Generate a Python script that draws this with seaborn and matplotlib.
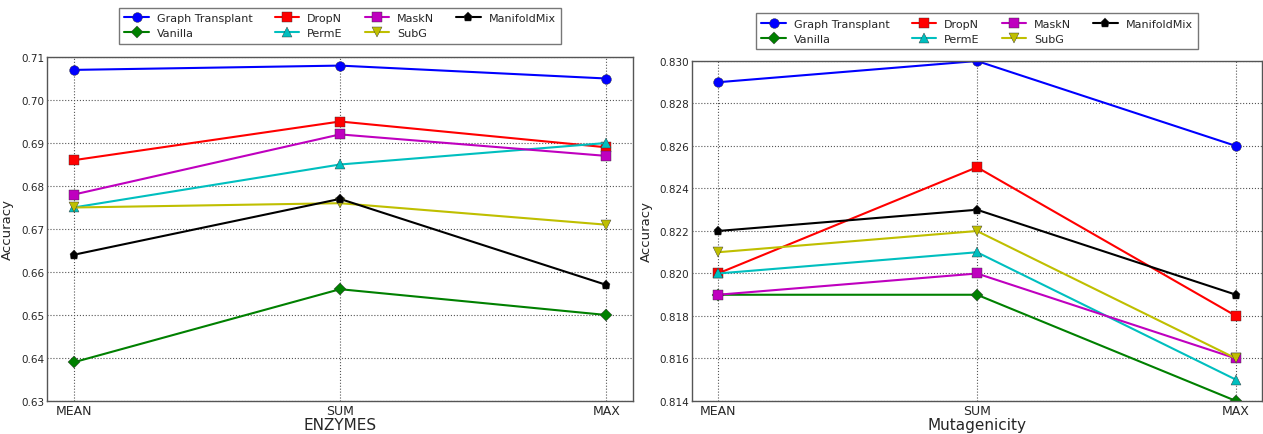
import matplotlib
matplotlib.use("Agg")
import matplotlib.pyplot as plt
import numpy as np
import pandas as pd
import seaborn as sns

# pooling types on the x axis
pools = ["MEAN", "SUM", "MAX"]
methods = ["Graph Transplant", "Vanilla", "DropN", "PermE", "MaskN", "SubG", "ManifoldMix"]

# ENZYMES accuracy
enz_transplant = [0.707, 0.708, 0.705]
enz_vanilla = [0.639, 0.656, 0.650]
enz_dropn = [0.686, 0.695, 0.689]
enz_perme = [0.675, 0.685, 0.690]
enz_maskn = [0.678, 0.692, 0.687]
enz_subg = [0.675, 0.676, 0.671]
enz_manifold = [0.664, 0.677, 0.657]

# Mutagenicity accuracy
mut_transplant = [0.829, 0.830, 0.826]
mut_vanilla = [0.819, 0.819, 0.814]
mut_dropn = [0.820, 0.825, 0.818]
mut_perme = [0.820, 0.821, 0.815]
mut_maskn = [0.819, 0.820, 0.816]
mut_subg = [0.821, 0.822, 0.816]
mut_manifold = [0.822, 0.823, 0.819]

colors = {"Graph Transplant": "b", "Vanilla": "g", "DropN": "r", "PermE": "c",
          "MaskN": "m", "SubG": "y", "ManifoldMix": "k"}
markers = {"Graph Transplant": "o", "Vanilla": "D", "DropN": "s", "PermE": "^",
           "MaskN": "s", "SubG": "v", "ManifoldMix": "p"}
sizes = {"Graph Transplant": 7, "Vanilla": 6.5, "DropN": 7, "PermE": 7,
         "MaskN": 7, "SubG": 7, "ManifoldMix": 6.5}


def make_df(series):
    rows = []
    for m, vals in zip(methods, series):
        for p, v in zip(pools, vals):
            rows.append({"pool": p, "acc": v, "method": m})
    return pd.DataFrame(rows)


enz = make_df([enz_transplant, enz_vanilla, enz_dropn, enz_perme, enz_maskn, enz_subg, enz_manifold])
mut = make_df([mut_transplant, mut_vanilla, mut_dropn, mut_perme, mut_maskn, mut_subg, mut_manifold])

sns.set_style("white")
plt.rcParams['font.family'] = ['DejaVu Sans']

fig = plt.figure(figsize=(12.63, 4.35), dpi=100)
W, H = 1263, 435
ax1 = fig.add_axes([47 / W, 1 - 402 / H, (633 - 47) / W, (402 - 58) / H])
ax2 = fig.add_axes([692 / W, 1 - 402 / H, (1262 - 692) / W, (402 - 62) / H])


def draw(ax, df, title, yticks, fmt, legend_y):
    for m in methods:
        d = df[df["method"] == m]
        sns.lineplot(data=d, x="pool", y="acc", ax=ax, color=colors[m], marker=markers[m],
                     markersize=sizes[m], markeredgecolor="#333333", markeredgewidth=0.3,
                     linewidth=1.5, label=m, sort=False)
    ax.set_xlim(-0.1, 2.1)
    ax.set_ylim(yticks[0], yticks[-1])
    ax.set_yticks(yticks)
    ax.set_yticklabels([fmt.format(t) for t in yticks], fontsize=7.5)
    ax.set_xticks([0, 1, 2])
    ax.set_xticklabels(pools, fontsize=9)
    ax.set_xlabel(title, fontsize=11, labelpad=0)
    ax.set_ylabel("Accuracy", fontsize=9.5, labelpad=5)
    ax.grid(True, linestyle=":", color="#555555", linewidth=0.8)
    for s in ax.spines.values():
        s.set_color("#555555")
        s.set_linewidth(1)
    ax.tick_params(length=0, pad=2)
    handles, labels = ax.get_legend_handles_labels()
    ax.legend(handles, labels, ncol=4, loc="lower center", bbox_to_anchor=(0.5, legend_y),
              fontsize=8, frameon=True, fancybox=False, edgecolor="#555555",
              handlelength=2.2, handletextpad=0.7, columnspacing=2.0, borderpad=0.5,
              labelspacing=0.45, borderaxespad=0)


draw(ax1, enz, "ENZYMES", np.round(np.arange(0.63, 0.7101, 0.01), 2), "{:.2f}", 1.038)
draw(ax2, mut, "Mutagenicity", np.round(np.arange(0.814, 0.8301, 0.002), 3), "{:.3f}", 1.035)

fig.savefig("out.png", dpi=100)
